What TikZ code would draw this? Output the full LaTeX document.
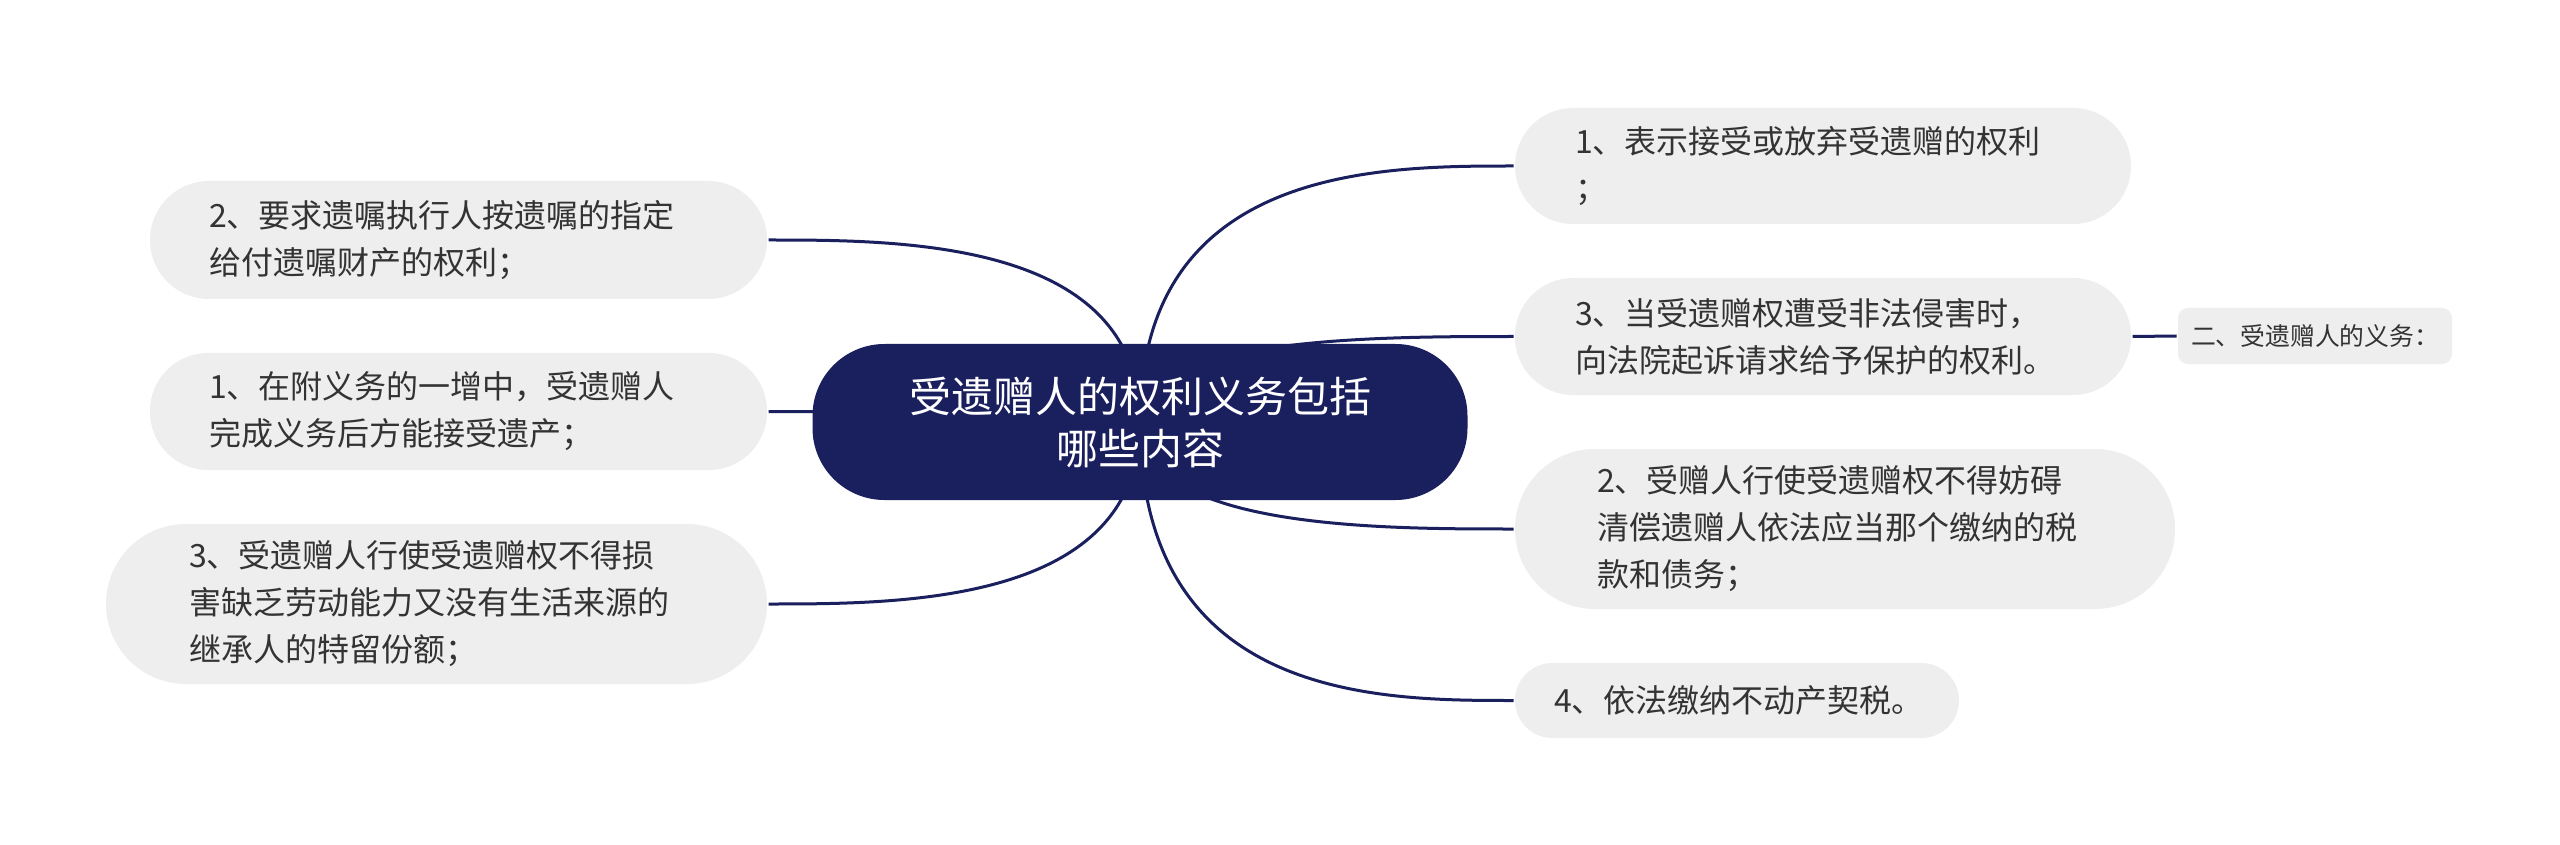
\documentclass[tikz,border=0pt]{standalone}
\usepackage{fontspec}
\setmainfont{Noto Sans CJK SC}
\usetikzlibrary{calc,backgrounds}
\definecolor{navy}{RGB}{26,31,94}
\definecolor{leafgray}{RGB}{238,238,238}
\definecolor{inkgray}{RGB}{51,51,51}
\hfuzz=20pt

\begin{document}
\begin{tikzpicture}[x=0.5pt,y=-0.5pt,every path/.append style={line width=1.5pt},
  topicbox/.style={fill=navy,text=white,rounded corners=36pt,minimum width=327.5pt,minimum height=78pt,align=center,font=\fontsize{21}{26}\selectfont},
  leaf/.style n args={4}{fill=leafgray,text=inkgray,inner xsep=0pt,minimum width=#1,text width=#2,minimum height=#3,rounded corners=#4,align=left,font=\fontsize{16}{23.5}\selectfont}]
\useasboundingbox (0,0) rectangle (2560,845);
\node[topicbox] (topic) at (1140,422) {受遗赠人的权利义务包括\\哪些内容};
\node[leaf={308.5pt}{249.5pt}{59pt}{29.5pt}] (execRight) at (458.5,240) {2、要求遗嘱执行人按遗嘱的指定\\给付遗嘱财产的权利；};
\node[leaf={308.5pt}{249.5pt}{58.5pt}{29pt}] (dutyAccept) at (458.5,411.5) {1、在附义务的一增中，受遗赠人\\完成义务后方能接受遗产；};
\node[leaf={330.5pt}{247.5pt}{80pt}{40pt}] (shareRight) at (436.5,604) {3、受遗赠人行使受遗赠权不得损\\害缺乏劳动能力又没有生活来源的\\继承人的特留份额；};
\node[leaf={308pt}{248pt}{58pt}{29pt}] (acceptRight) at (1823,166) {1、表示接受或放弃受遗赠的权利\\；};
\node[leaf={308pt}{248pt}{58.5pt}{29pt}] (sueRight) at (1823,336.5) {3、当受遗赠权遭受非法侵害时，\\向法院起诉请求给予保护的权利。};
\node[leaf={330pt}{248pt}{80pt}{40pt}] (debtDuty) at (1845,529) {2、受赠人行使受遗赠权不得妨碍\\清偿遗赠人依法应当那个缴纳的税\\款和债务；};
\node[leaf={222pt}{183pt}{37.5pt}{18.75pt}] (taxDuty) at (1737,700.5) {4、依法缴纳不动产契税。};
\node[leaf={137pt}{124pt}{28pt}{5pt},font=\fontsize{12.4}{15}\selectfont] (dutyHead) at (2315,336) {二、受遗赠人的义务：};
\begin{scope}[on background layer]
\fill[white] (0,0) rectangle (2560,845);
\foreach \nd/\side in {execRight/east,dutyAccept/east,shareRight/east,acceptRight/west,sueRight/west,debtDuty/west,taxDuty/west}
	\draw[navy] (topic.center) .. controls (topic.center |- \nd.\side) and ($(topic.center |- \nd.\side)!0.64!(\nd.\side)$) .. (\nd.\side);
\draw[navy] (sueRight.east) -- (dutyHead.west);
\end{scope}
\end{tikzpicture}
\end{document}
